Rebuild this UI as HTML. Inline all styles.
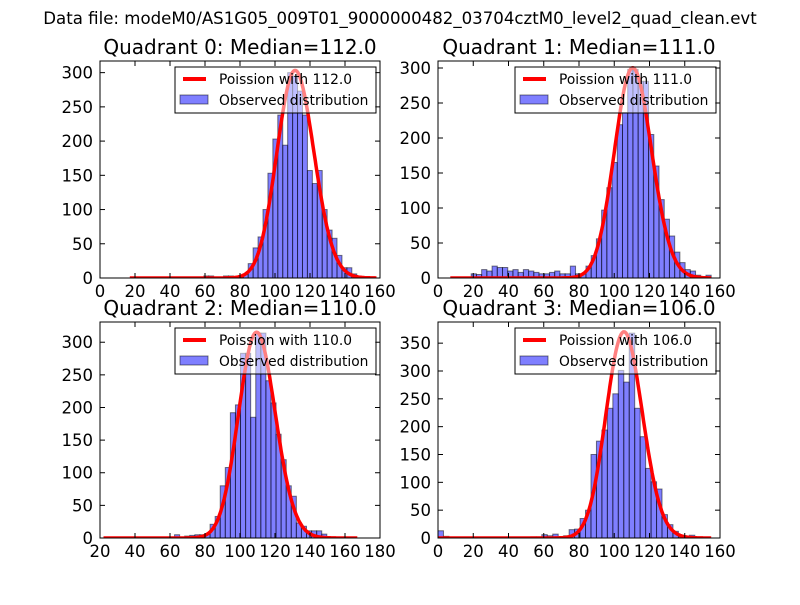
<!DOCTYPE html>
<html><head><meta charset="utf-8"><style>
body{margin:0;background:#fff;}
svg text{font-family:"DejaVu Sans","Liberation Sans",sans-serif;}
</style></head><body>
<svg id="fig" width="800" height="600" viewBox="0 0 800 600" xmlns="http://www.w3.org/2000/svg">
<rect width="800" height="600" fill="#fff"/>
<text x="400" y="24" font-size="16.6" text-anchor="middle">Data file: modeM0/AS1G05_009T01_9000000482_03704cztM0_level2_quad_clean.evt</text>
</svg>
<script>
// ---- data ----
const medians = [112.0, 111.0, 110.0, 106.0];
const peaks = [303, 300, 315, 370];
const binStarts = [17, 7, 22, 0];
const binWidths = [2.82, 2.96, 2.9, 3.1];
const counts0 = [0,0,0,0,0,0,0,0,0,0,0,0,0,0,0,3,3,1,1,3,3,2,3,5,21,44,60,100,153,203,238,194,300,295,273,238,157,138,157,100,70,58,33,15,15,6,2,1,0,0];
const counts1 = [0,0,0,0,6,5,12,10,17,15,15,10,12,8,12,10,8,6,6,8,10,6,6,17,6,6,17,32,56,97,129,165,219,236,298,298,281,281,205,160,112,84,60,37,22,12,10,4,2,4];
const counts2 = [0,0,0,0,0,0,0,0,0,0,0,0,0,0,5,1,3,4,5,5,6,21,33,80,108,192,204,283,283,185,314,314,241,207,159,120,80,64,23,18,11,11,11,6,0,0,0,0,0,0];
const counts3 = [13,3,1,1,1,1,1,0,0,0,0,0,0,1,1,0,0,2,2,6,4,7,2,4,15,16,35,50,150,174,194,233,259,301,280,368,233,182,125,101,88,42,24,12,2,1,5,0,0,0];
const allCounts = [counts0, counts1, counts2, counts3];
const xMins = [0, 0, 20, 0];
const xMaxs = [160, 160, 180, 160];
const yMaxs = [317, 310, 331, 388];
const xTickLabels = [[0,20,40,60,80,100,120,140,160],[0,20,40,60,80,100,120,140,160],[20,40,60,80,100,120,140,160,180],[0,20,40,60,80,100,120,140,160]];
const yTickLabels = [[0,50,100,150,200,250,300],[0,50,100,150,200,250,300],[0,50,100,150,200,250,300],[0,50,100,150,200,250,300,350]];
const curveRanges = [[17,158],[7,155],[22,167],[0,155]];

const boxes = [{l:100,r:380,t:61,b:278},{l:438,r:720,t:61,b:278},{l:100,r:380,t:322,b:538},{l:438,r:720,t:322,b:538}];
const NS = "http://www.w3.org/2000/svg";
const svg = document.getElementById('fig');
function mk(tag, attrs, parent){const e=document.createElementNS(NS,tag);for(const k in attrs)e.setAttribute(k,attrs[k]);(parent||svg).appendChild(e);return e;}
function lgamma(z){
  let s=0; while(z<7){s-=Math.log(z);z+=1;}
  return s+(z-0.5)*Math.log(z)-z+0.5*Math.log(2*Math.PI)+1/(12*z)-1/(360*z*z*z);
}
function poissonRel(k,lam){return Math.exp(k*Math.log(lam)-lgamma(k+1)-(lam*Math.log(lam)-lgamma(lam+1)));}

for(let p=0;p<4;p++){
  const B=boxes[p];
  const g=mk('g',{});
  
  
  const xs=v=>B.l+(v-xMins[p])/(xMaxs[p]-xMins[p])*(B.r-B.l);
  const ys=v=>B.b-v/yMaxs[p]*(B.b-B.t);
  const clipId='clip'+p;
  const cp=mk('clipPath',{id:clipId},g);
  mk('rect',{x:B.l,y:B.t,width:B.r-B.l,height:B.b-B.t},cp);
  const plot=mk('g',{'clip-path':'url(#'+clipId+')'},g);
  const c=allCounts[p];
  for(let i=0;i<c.length;i++){
    if(c[i]<=0)continue;
    const x0=binStarts[p]+i*binWidths[p];
    const r=mk('rect',{x:xs(x0),y:ys(c[i]),width:xs(x0+binWidths[p])-xs(x0),height:ys(0)-ys(c[i]),fill:'rgba(0,0,255,0.5)',stroke:'rgba(0,0,0,0.5)','stroke-width':1},plot);
    
    
  }
  let d='';
  const [c0,c1]=curveRanges[p];
  for(let k=c0;k<=c1;k+=0.5){
    const v=peaks[p]*poissonRel(k,medians[p]);
    d+=(d?'L':'M')+xs(k).toFixed(1)+','+ys(v).toFixed(1);
  }
  const ln=mk('path',{d:d,fill:'none',stroke:'#ff0000','stroke-width':3.5,'stroke-linejoin':'round'},plot);
  
  
  mk('rect',{x:B.l,y:B.t,width:B.r-B.l,height:B.b-B.t,fill:'none',stroke:'#000','stroke-width':1},g);
  xTickLabels[p].forEach(v=>{
    const x=xs(v);
    mk('line',{x1:x,x2:x,y1:B.b,y2:B.b-5,stroke:'#000'},g);
    mk('line',{x1:x,x2:x,y1:B.t,y2:B.t+5,stroke:'#000'},g);
    const t=mk('text',{x:x,y:B.b+19,'font-size':16.5,'text-anchor':'middle'},g);
    t.textContent=v;
    
    
  });
  yTickLabels[p].forEach(v=>{
    const y=ys(v);
    mk('line',{x1:B.l,x2:B.l+5,y1:y,y2:y,stroke:'#000'},g);
    mk('line',{x1:B.r,x2:B.r-5,y1:y,y2:y,stroke:'#000'},g);
    const t=mk('text',{x:B.l-7,y:y+6,'font-size':16.5,'text-anchor':'end'},g);
    t.textContent=v;
    
    
  });
  const tt=mk('text',{x:(B.l+B.r)/2,y:B.t-7,'font-size':20,'text-anchor':'middle'},g);
  tt.textContent='Quadrant '+p+': Median='+medians[p].toFixed(1);
  
  
  const lg=mk('g',{},g);
  
  
  const lx=B.r-205, ly=B.t+6;
  mk('rect',{x:lx,y:ly,width:201,height:46,fill:'rgba(255,255,255,0.5)',stroke:'#000','stroke-width':1},lg);
  mk('line',{x1:lx+8,x2:lx+31,y1:ly+12,y2:ly+12,stroke:'#ff0000','stroke-width':4},lg);
  const t1=mk('text',{x:lx+44,y:ly+17,'font-size':13.8},lg);
  t1.textContent='Poission with '+medians[p].toFixed(1);
  
  
  mk('rect',{x:lx+5,y:ly+28,width:28,height:9,fill:'rgba(0,0,255,0.5)',stroke:'rgba(0,0,0,0.5)'},lg);
  const t2=mk('text',{x:lx+44,y:ly+38,'font-size':13.8},lg);
  t2.textContent='Observed distribution';
  
  
}
</script>
</body></html>
